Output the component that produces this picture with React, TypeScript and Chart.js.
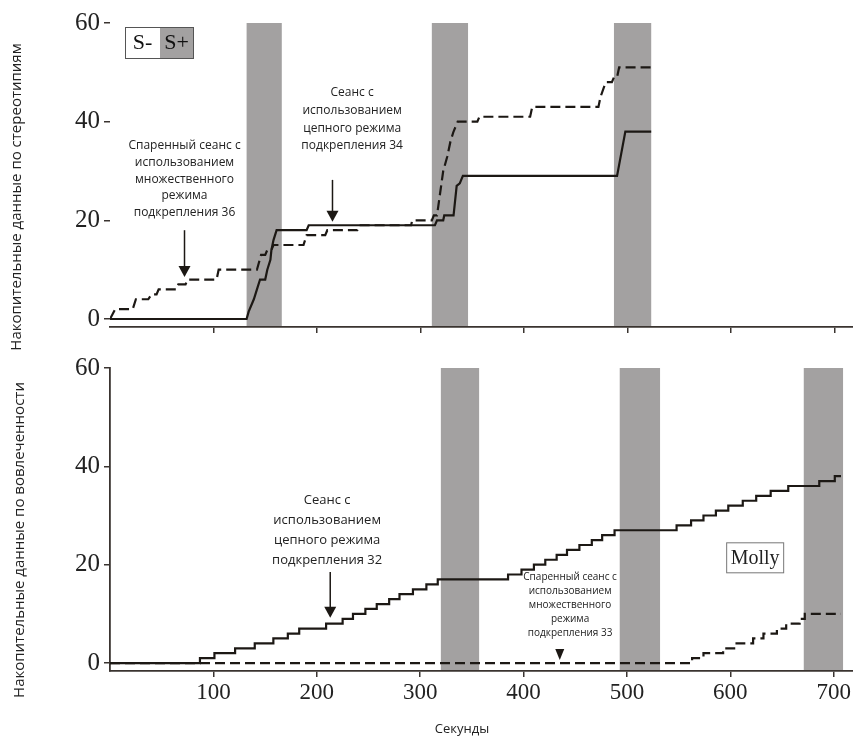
import React, { useEffect, useRef } from "react";
import { Chart, registerables } from "chart.js";
Chart.register(...registerables);

// ---------- data ----------
const xTickValues = [100, 200, 300, 400, 500, 600, 700];
const yTickValues = [0, 20, 40, 60];

// top panel: stereotypy (vertices)
const topSolid: [number, number][] = [
  [0, 0], [132, 0], [134, 1.5], [139, 4], [142, 6], [145, 8], [150, 8], [152, 10],
  [155, 12], [156, 14], [158, 16], [161, 18], [190, 18], [192, 19], [314, 19],
  [316, 20], [322, 20], [323, 21], [332, 21], [335, 27], [338, 27.5], [341, 29],
  [490, 29], [498, 38], [523, 38],
];
const topDashed: [number, number][] = [
  [0, 0], [5, 2], [22, 2], [25, 4], [37, 4], [40, 5], [45, 5], [47, 6], [64, 6],
  [66, 7], [73, 7], [75, 8], [103, 8], [105, 10], [142, 10], [146, 13], [150, 13],
  [152, 14], [156, 14], [158, 15], [187, 15], [190, 17], [208, 17], [210, 18],
  [239, 18], [241, 19], [291, 19], [292, 20], [311, 20], [313, 21], [316, 21],
  [318, 24], [322, 30], [326, 33], [329, 36], [332, 38], [336, 40], [355, 40],
  [357, 41], [406, 41], [408, 43], [472, 43], [474, 45], [479, 48], [485, 48],
  [487, 49], [490, 49], [492, 51], [523, 51],
];
const topBands: [number, number][] = [[132, 166], [311, 346], [487, 523]];

// bottom panel: engagement (step points: time, new value)
const botSolid: [number, number][] = [
  [0, 0], [87, 1], [101, 2], [121, 3], [140, 4], [158, 5], [172, 6], [183, 7],
  [209, 8], [225, 9], [235, 10], [247, 11], [258, 12], [270, 13], [280, 14],
  [293, 15], [306, 16], [317, 17], [385, 18], [398, 19], [410, 20], [421, 21],
  [432, 22], [442, 23], [454, 24], [466, 25], [476, 26], [488, 27], [548, 28],
  [562, 29], [574, 30], [586, 31], [598, 32], [612, 33], [625, 34], [639, 35],
  [656, 36], [686, 37], [701, 38], [707, 38],
];
const botDashed: [number, number][] = [
  [0, 0], [563, 1], [574, 2], [593, 3], [606, 4], [622, 5], [632, 6], [645, 7],
  [654, 8], [667, 9], [672, 10], [707, 10],
];
const botBands: [number, number][] = [[320, 357], [493, 532], [671, 709]];

// ---------- styles ----------
const AXIS = "#3a3430";
const LINE = "#1c1814";
const BAND = "#a3a1a1";
const TEXT = "#222222";
const SANS = '"Open Sans", "Noto Sans", sans-serif';
const SERIF = '"Liberation Serif", "DejaVu Serif", serif';

type Note = { x: number; y: number; lines: string[]; size: number; lh: number };
type Arrow = { x: number; y1: number; y2: number };

function drawNotes(chart: any, notes: Note[], arrows: Arrow[]) {
  const { ctx, scales } = chart;
  const xs = scales.x, ys = scales.y;
  ctx.save();
  ctx.fillStyle = TEXT;
  ctx.textAlign = "center";
  ctx.textBaseline = "middle";
  for (const n of notes) {
    ctx.font = `${n.size}px ${SANS}`;
    const px = xs.getPixelForValue(n.x);
    const py = ys.getPixelForValue(n.y);
    n.lines.forEach((l, i) => ctx.fillText(l, px, py + i * n.lh));
  }
  ctx.strokeStyle = LINE;
  ctx.fillStyle = LINE;
  ctx.lineWidth = 1.5;
  for (const a of arrows) {
    const px = xs.getPixelForValue(a.x);
    const p1 = ys.getPixelForValue(a.y1);
    const p2 = ys.getPixelForValue(a.y2);
    ctx.beginPath();
    ctx.moveTo(px, p1);
    ctx.lineTo(px, p2 - 8);
    ctx.stroke();
    ctx.beginPath();
    ctx.moveTo(px - 6, p2 - 11);
    ctx.lineTo(px + 6, p2 - 11);
    ctx.lineTo(px, p2);
    ctx.closePath();
    ctx.fill();
  }
  ctx.restore();
}

function bandsPlugin(bands: [number, number][]) {
  return {
    id: "bands",
    beforeDatasetsDraw(chart: any) {
      const { ctx, chartArea, scales } = chart;
      ctx.save();
      ctx.fillStyle = BAND;
      for (const [a, b] of bands) {
        const x1 = scales.x.getPixelForValue(a);
        const x2 = scales.x.getPixelForValue(b);
        const y1 = scales.y.getPixelForValue(60);
        ctx.fillRect(x1, y1, x2 - x1, chartArea.bottom - 1 - y1);
      }
      ctx.restore();
    },
  };
}

function yTitlePlugin(text: string, cx: number, cy: number) {
  return {
    id: "ytitle",
    afterDraw(chart: any) {
      const { ctx } = chart;
      ctx.save();
      ctx.translate(cx, cy);
      ctx.rotate(-Math.PI / 2);
      ctx.font = `15px ${SANS}`;
      ctx.fillStyle = TEXT;
      ctx.textAlign = "center";
      ctx.textBaseline = "middle";
      ctx.fillText(text, 0, 0);
      ctx.restore();
    },
  };
}

function baseOptions(showXLabels: boolean, showYBorder: boolean, xHeight: number) {
  return {
    animation: false,
    responsive: false,
    maintainAspectRatio: false,
    layout: { padding: { top: 23, right: 0, left: 0, bottom: 0 } },
    plugins: { legend: { display: false }, tooltip: { enabled: false } },
    elements: { point: { radius: 0 }, line: { tension: 0 } },
    scales: {
      x: {
        type: "linear",
        min: 0,
        max: 718,
        afterBuildTicks: (s: any) => { s.ticks = xTickValues.map((v) => ({ value: v })); },
        afterFit: (s: any) => { s.height = xHeight; },
        grid: { drawOnChartArea: false, drawTicks: true, tickLength: 6, color: AXIS, lineWidth: 1.5 },
        border: { display: true, color: AXIS, width: 1.8 },
        ticks: {
          display: showXLabels,
          padding: 2,
          color: TEXT,
          font: { family: SERIF, size: 23 },
          maxRotation: 0,
        },
      },
      y: {
        type: "linear",
        min: -1.62,
        max: 60,
        afterBuildTicks: (s: any) => { s.ticks = yTickValues.map((v) => ({ value: v })); },
        afterFit: (s: any) => { s.width = 110; },
        grid: { drawOnChartArea: false, drawTicks: true, tickLength: 6, color: AXIS, lineWidth: 1.5 },
        border: { display: showYBorder, color: AXIS, width: 1.8 },
        ticks: { padding: 4, color: TEXT, font: { family: SERIF, size: 25 } },
      },
    },
  } as any;
}

const toXY = (arr: [number, number][]) => arr.map(([x, y]) => ({ x, y }));

export default function App() {
  const topRef = useRef<HTMLCanvasElement>(null);
  const botRef = useRef<HTMLCanvasElement>(null);

  useEffect(() => {
    const topNotes: Note[] = [
      { x: 72, y: 35.1, size: 12, lh: 16.7, lines: ["Спаренный сеанс с", "использованием", "множественного", "режима", "подкрепления 36"] },
      { x: 234, y: 45.8, size: 12, lh: 17.6, lines: ["Сеанс с", "использованием", "цепного режима", "подкрепления 34"] },
    ];
    const topArrows: Arrow[] = [
      { x: 72, y1: 18, y2: 8.5 },
      { x: 215, y1: 28.2, y2: 19.7 },
    ];
    const topChart = new Chart(topRef.current!, {
      type: "line",
      data: {
        datasets: [
          { data: toXY(topSolid), borderColor: LINE, borderWidth: 2.2, fill: false },
          { data: toXY(topDashed), borderColor: LINE, borderWidth: 2.2, borderDash: [10, 5], fill: false },
        ],
      },
      options: baseOptions(false, false, 33),
      plugins: [
        bandsPlugin(topBands),
        {
          id: "topNotes",
          afterDatasetsDraw(chart: any) {
            drawNotes(chart, topNotes, topArrows);
            const { ctx, chartArea } = chart;
            const l = chartArea.left + 15, t = chartArea.top + 4, h = 31;
            ctx.save();
            ctx.fillStyle = "#ffffff";
            ctx.fillRect(l, t, 35, h);
            ctx.fillStyle = BAND;
            ctx.fillRect(l + 35, t, 33, h);
            ctx.strokeStyle = "#555";
            ctx.lineWidth = 1;
            ctx.strokeRect(l + 0.5, t + 0.5, 68, h);
            ctx.fillStyle = "#111";
            ctx.font = `22px ${SERIF}`;
            ctx.textAlign = "center";
            ctx.textBaseline = "middle";
            ctx.fillText("S-", l + 17.5, t + h / 2 + 1);
            ctx.fillText("S+", l + 51.5, t + h / 2 + 1);
            ctx.restore();
          },
        },
        yTitlePlugin("Накопительные данные по стереотипиям", 17, 197),
      ],
    } as any);

    const botNotes: Note[] = [
      { x: 210, y: 33.1, size: 13, lh: 20, lines: ["Сеанс с", "использованием", "цепного режима", "подкрепления 32"] },
      { x: 445, y: 17.5, size: 10, lh: 14, lines: ["Спаренный сеанс с", "использованием", "множественного", "режима", "подкрепления 33"] },
    ];
    const botArrows: Arrow[] = [{ x: 213, y1: 18.5, y2: 9.2 }];
    const botChart = new Chart(botRef.current!, {
      type: "line",
      data: {
        datasets: [
          { data: toXY(botSolid), borderColor: LINE, borderWidth: 2.2, stepped: "before", fill: false },
          { data: toXY(botDashed), borderColor: LINE, borderWidth: 2.2, borderDash: [10, 5], stepped: "before", fill: false },
        ],
      },
      options: baseOptions(true, true, 65),
      plugins: [
        bandsPlugin(botBands),
        {
          id: "botNotes",
          afterDatasetsDraw(chart: any) {
            drawNotes(chart, botNotes, botArrows);
            const { ctx, scales } = chart;
            ctx.save();
            // small triangle marker
            const tx = scales.x.getPixelForValue(435);
            const tTop = scales.y.getPixelForValue(2.85);
            const tBot = scales.y.getPixelForValue(0.6);
            ctx.fillStyle = LINE;
            ctx.beginPath();
            ctx.moveTo(tx - 4.5, tTop);
            ctx.lineTo(tx + 4.5, tTop);
            ctx.lineTo(tx, tBot);
            ctx.closePath();
            ctx.fill();
            // Molly box
            const mx = scales.x.getPixelForValue(624);
            const my = scales.y.getPixelForValue(21.4);
            ctx.fillStyle = "#ffffff";
            ctx.fillRect(mx - 28.5, my - 15, 57, 30);
            ctx.strokeStyle = "#777";
            ctx.lineWidth = 1;
            ctx.strokeRect(mx - 28.5, my - 15, 57, 30);
            ctx.fillStyle = "#222";
            ctx.font = `20px ${SERIF}`;
            ctx.textAlign = "center";
            ctx.textBaseline = "middle";
            ctx.fillText("Molly", mx, my + 1);
            // x title
            ctx.font = `13px ${SANS}`;
            ctx.fillStyle = TEXT;
            ctx.fillText("Секунды", 462, 384);
            ctx.restore();
          },
        },
        yTitlePlugin("Накопительные данные по вовлеченности", 20, 195),
      ],
    } as any);

    return () => {
      topChart.destroy();
      botChart.destroy();
    };
  }, []);

  return (
    <div style={{ position: "absolute", left: 0, top: 0, width: 853, height: 736, background: "#fff" }}>
      <canvas ref={topRef} width={853} height={360} style={{ position: "absolute", left: 0, top: 0, width: 853, height: 360 }} />
      <canvas ref={botRef} width={853} height={391} style={{ position: "absolute", left: 0, top: 345, width: 853, height: 391 }} />
    </div>
  );
}
